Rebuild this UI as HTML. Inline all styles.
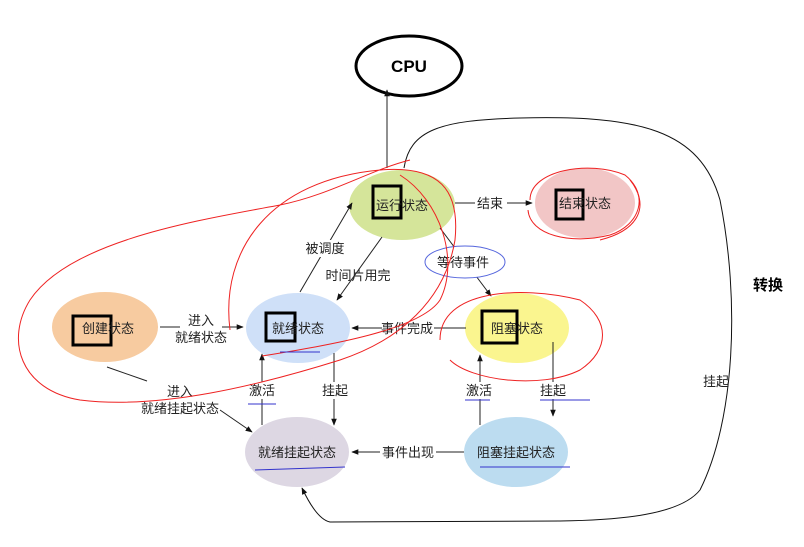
<!DOCTYPE html>
<html><head><meta charset="utf-8"><style>
html,body{margin:0;padding:0;background:#fff;}
svg{display:block;}
text{font-family:"Liberation Sans","Noto Sans CJK SC",sans-serif;font-size:13px;fill:#222;}
</style></head><body>
<svg width="804" height="547" viewBox="0 0 804 547" xmlns="http://www.w3.org/2000/svg">
<defs><marker id="a" viewBox="0 0 10 10" refX="9" refY="5" markerWidth="7" markerHeight="7" orient="auto-start-reverse"><path d="M0,1 L10,5 L0,9 z" fill="#111"/></marker></defs>
<!-- CPU -->
<ellipse cx="409" cy="66" rx="53" ry="30" fill="#fff" stroke="#000" stroke-width="3"/>
<text x="409" y="72" text-anchor="middle" style="font-size:17px;font-weight:bold;fill:#000">CPU</text>
<line x1="387" y1="168" x2="387" y2="90" stroke="#222" stroke-width="1" marker-end="url(#a)"/>
<!-- big loop -->
<path d="M404,168 C410,130 440,120 520,118 C640,115 700,130 720,200 C740,300 735,420 700,490 C680,515 620,520 560,521 L330,522 C320,520 310,505 302,488" fill="none" stroke="#111" stroke-width="1" marker-end="url(#a)"/>
<!-- ellipses -->
<ellipse cx="402" cy="205" rx="53" ry="35" fill="#d5e59a"/>
<ellipse cx="585" cy="203" rx="50" ry="35" fill="#f2c6c6"/>
<ellipse cx="298" cy="328" rx="52" ry="35" fill="#cfe0f8"/>
<ellipse cx="105" cy="327" rx="53" ry="35" fill="#f7cba0"/>
<ellipse cx="517" cy="328" rx="52" ry="35" fill="#faf58f"/>
<ellipse cx="297" cy="452" rx="52" ry="35" fill="#ddd7e3"/>
<ellipse cx="516" cy="452" rx="52" ry="35" fill="#bcdcf0"/>
<!-- boxes -->
<g fill="none" stroke="#000" stroke-width="3">
<rect x="373" y="186" width="28" height="32"/>
<rect x="556" y="190" width="27" height="29"/>
<rect x="266" y="313" width="29" height="28"/>
<rect x="73" y="316" width="38" height="29"/>
<rect x="482" y="311" width="35" height="32"/>
</g>
<!-- labels in nodes -->
<text x="402" y="210" text-anchor="middle">运行状态</text>
<text x="585" y="208" text-anchor="middle">结束状态</text>
<text x="298" y="333" text-anchor="middle">就绪状态</text>
<text x="108" y="333" text-anchor="middle">创建状态</text>
<text x="517" y="333" text-anchor="middle">阻塞状态</text>
<text x="297" y="457" text-anchor="middle">就绪挂起状态</text>
<text x="516" y="457" text-anchor="middle">阻塞挂起状态</text>
<text x="768" y="290" text-anchor="middle" style="font-size:15px;font-weight:bold;fill:#000">转换</text>
<text x="716" y="386" text-anchor="middle">挂起</text>
<!-- arrows -->
<g stroke="#222" stroke-width="1" fill="none">
<line x1="160" y1="327" x2="243" y2="327" marker-end="url(#a)"/>
<line x1="107" y1="367" x2="147" y2="381"/>
<line x1="220" y1="410" x2="252" y2="432" marker-end="url(#a)"/>
<line x1="300" y1="292" x2="352" y2="203" marker-end="url(#a)"/>
<line x1="382" y1="237" x2="337" y2="300" marker-end="url(#a)"/>
<line x1="455" y1="203" x2="532" y2="203" marker-end="url(#a)"/>
<line x1="440" y1="228" x2="491" y2="296" marker-end="url(#a)"/>
<line x1="466" y1="328" x2="352" y2="328" marker-end="url(#a)"/>
<line x1="334" y1="353" x2="334" y2="425" marker-end="url(#a)"/>
<line x1="262" y1="425" x2="262" y2="354" marker-end="url(#a)"/>
<line x1="553" y1="342" x2="553" y2="416" marker-end="url(#a)"/>
<line x1="480" y1="425" x2="480" y2="355" marker-end="url(#a)"/>
<line x1="464" y1="452" x2="352" y2="452" marker-end="url(#a)"/>
</g>
<g text-anchor="middle">
<rect x="180" y="312" width="42" height="34" fill="#fff"/>
<text x="201" y="325">进入</text><text x="201" y="342">就绪状态</text>
<text x="180" y="396">进入</text><text x="180" y="413">就绪挂起状态</text>
<rect x="302" y="240" width="46" height="17" fill="#fff"/>
<text x="325" y="253">被调度</text>
<text x="358" y="280">时间片用完</text>
<rect x="475" y="195" width="32" height="17" fill="#fff"/>
<text x="490" y="208">结束</text>
<rect x="382" y="320" width="52" height="17" fill="#fff"/>
<text x="407" y="333">事件完成</text>
<rect x="322" y="382" width="26" height="17" fill="#fff"/>
<text x="335" y="395">挂起</text>
<rect x="248" y="382" width="28" height="17" fill="#fff"/>
<text x="262" y="395">激活</text>
<rect x="540" y="382" width="28" height="17" fill="#fff"/>
<text x="553" y="395">挂起</text>
<rect x="465" y="382" width="28" height="17" fill="#fff"/>
<text x="479" y="395">激活</text>
<rect x="380" y="444" width="56" height="17" fill="#fff"/>
<text x="408" y="457">事件出现</text>
<ellipse cx="465" cy="262" rx="40" ry="16" fill="#fff" stroke="#5566dd" stroke-width="1"/>
<text x="463" y="267">等待事件</text>
</g>
<!-- red scribbles -->
<g fill="none" stroke="#e22" stroke-width="1">
<path d="M230,330 C220,250 270,180 380,170 C440,165 460,190 455,240 C445,300 400,340 340,360 C260,385 160,410 80,400 C20,390 5,340 30,300 C70,240 200,220 280,205 C330,195 370,170 410,160"/>
<path d="M262,356 C330,345 420,330 440,300 C460,260 440,200 400,175"/>
<path d="M440,340 C440,290 520,285 580,300 C610,320 610,350 580,370 C540,390 470,380 450,360"/>
<path d="M530,200 C530,170 590,160 625,175 C650,195 640,225 610,235 C570,245 530,235 528,210"/>
<path d="M600,240 C640,230 650,205 630,180"/>
</g>
<g fill="none" stroke="#33c" stroke-width="1">
<path d="M280,352 L320,352"/><path d="M255,470 L345,467"/><path d="M480,467 L570,467"/>
<path d="M248,404 L276,404"/><path d="M540,400 L590,400"/><path d="M465,400 L490,400"/>
</g>
</svg>
</body></html>
